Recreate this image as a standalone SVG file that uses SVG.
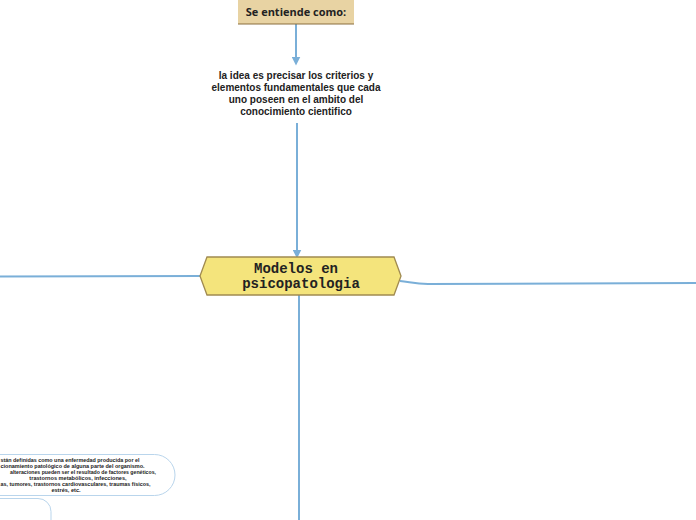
<svg xmlns="http://www.w3.org/2000/svg" width="696" height="520" viewBox="0 0 696 520">
<defs>
<style>
.conn{fill:none;stroke:#7aafd8;stroke-width:2}
.small{font-family:"Liberation Sans",Arial,sans-serif;font-weight:bold;font-size:10px;fill:#222;text-anchor:middle}
.tiny{font-family:"Liberation Sans",Arial,sans-serif;font-weight:bold;font-size:5.6px;fill:#222}
.sub{fill:#fff;stroke:#b9d5ec;stroke-width:1}
</style>
<marker id="arr" viewBox="0 0 10 10" refX="5" refY="5" markerWidth="4.5" markerHeight="4.5" orient="auto">
<path d="M0,0 L10,5 L0,10 z" fill="#7aafd8"/>
</marker>
</defs>
<rect width="696" height="520" fill="#fff"/>
<g id="connectors">
<path class="conn" d="M296,24 L296,61" marker-end="url(#arr)"/>
<path class="conn" d="M297,123 L297,254" marker-end="url(#arr)"/>
<path class="conn" d="M201,276 L0,276.5"/>
<path class="conn" d="M400,281 C410,282 415,284 428,284 L696,283"/>
<path class="conn" d="M299,295 L299,520"/>
</g>
<g id="node-se-entiende">
<rect x="238" y="0" width="116" height="24" fill="#e8d3a3"/>
<line x1="238" y1="24" x2="354" y2="24" stroke="#8a6e3e" stroke-width="1.2"/>
<text x="296" y="15.5" font-family="'Open Sans','Liberation Sans',sans-serif" font-weight="bold" font-size="11" fill="#222" text-anchor="middle">Se entiende como:</text>
</g>
<g id="node-idea">
<text class="small" x="296" y="79">la idea es precisar los criterios y</text>
<text class="small" x="296" y="91">elementos fundamentales que cada</text>
<text class="small" x="296" y="103">uno poseen en el ambito del</text>
<text class="small" x="296" y="114.5">conocimiento cientifico</text>
</g>
<g id="node-modelos">
<polygon points="200,276 207,257 394,257 401,276 394,295 207,295" fill="#f4e47c" stroke="#a08a50" stroke-width="1.3"/>
<text x="296" y="272.5" font-family="'Liberation Mono','Courier New',monospace" font-weight="bold" font-size="14" fill="#222" text-anchor="middle">Modelos en</text>
<text x="301" y="288" font-family="'Liberation Mono','Courier New',monospace" font-weight="bold" font-size="14" fill="#222" text-anchor="middle">psicopatologia</text>
</g>
<g id="node-enfermedad">
<rect class="sub" x="-30" y="454.5" width="205" height="41" rx="20.5"/>
<text class="tiny" x="0.5" y="461.5" textLength="139" lengthAdjust="spacingAndGlyphs">stán definidas como una enfermedad producida por el</text>
<text class="tiny" x="0.5" y="467.5" textLength="144" lengthAdjust="spacingAndGlyphs">cionamiento patológico de alguna parte del organismo.</text>
<text class="tiny" x="10" y="473.5" textLength="146" lengthAdjust="spacingAndGlyphs">alteraciones pueden ser el resultado de factores genéticos,</text>
<text class="tiny" x="78" y="479.5" text-anchor="middle">trastornos metabólicos, infecciones,</text>
<text class="tiny" x="0.5" y="485.5" textLength="150" lengthAdjust="spacingAndGlyphs">as, tumores, trastornos cardiovasculares, traumas físicos,</text>
<text class="tiny" x="66" y="491.5" text-anchor="middle">estrés, etc.</text>
</g>
<g id="node-second">
<rect class="sub" x="-30" y="498.5" width="81" height="40" rx="13"/>
</g>
</svg>
